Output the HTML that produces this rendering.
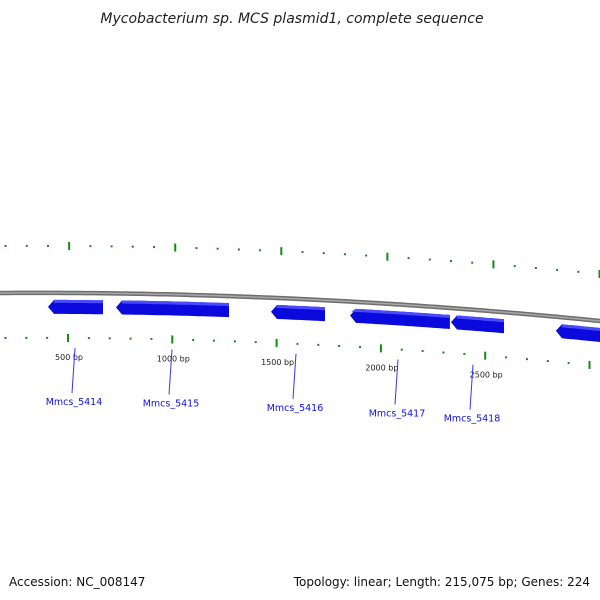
<!DOCTYPE html>
<html><head><meta charset="utf-8"><style>
html,body{margin:0;padding:0;background:#fff;width:600px;height:600px;overflow:hidden}
text{font-family:"DejaVu Sans","Liberation Sans",sans-serif}
</style></head><body>
<svg id="map" width="600" height="600" viewBox="0 0 600 600" xmlns="http://www.w3.org/2000/svg">
<text x="292" y="23" text-anchor="middle" font-size="14" font-style="italic" fill="#222">Mycobacterium sp. MCS plasmid1, complete sequence</text>
<text x="9" y="586" font-size="12" fill="#111">Accession: NC_008147</text>
<text x="590" y="586" text-anchor="end" font-size="12" fill="#111">Topology: linear; Length: 215,075 bp; Genes: 224</text>
<g id="layer"></g>
</svg>
<script>
const geneNames = ["Mmcs_5414","Mmcs_5415","Mmcs_5416","Mmcs_5417","Mmcs_5418",""];
const geneStarts = [404, 730, 1473, 1852, 2336, 2839];
const geneEnds = [668, 1272, 1732, 2331, 2590, 3100];
const majorTicks = [500, 1000, 1500, 2000, 2500, 3000];
const majorTickLabels = ["500 bp","1000 bp","1500 bp","2000 bp","2500 bp",""];
const tickStep = 100;
const tickMin = 100, tickMax = 3100;

const NS="http://www.w3.org/2000/svg";
const layer=document.getElementById('layer');
function xOf(bp){return 68+(bp-500)*0.2086;}
function yBB(x){return 293-0.0067*x+0.0000889*x*x;}
function mk(tag,attrs){const e=document.createElementNS(NS,tag);for(const k in attrs)e.setAttribute(k,attrs[k]);layer.appendChild(e);return e;}

// backbone
let d="";for(let x=-5;x<=605;x+=5){d+=(x===-5?"M":"L")+x+","+yBB(x).toFixed(2);}
const bb=mk('path',{d:d,fill:'none',stroke:'#6e6e6e','stroke-width':4.5});


const bb2=mk('path',{d:d,fill:'none',stroke:'#a8a8a8','stroke-width':1.5});



// ticks
for(let bp=tickMin;bp<=tickMax;bp+=tickStep){
  const major=majorTicks.includes(bp);
  const xi=xOf(bp);
  const yi=yBB(xi)+45;
  const xo=xi*1.017;
  const yo=yBB(xo)-47;
  if(major){
    const t1=mk('rect',{x:xi-1,y:yi-4,width:2,height:8,fill:'#138c13'});
    
    
    const t2=mk('rect',{x:xo-1,y:yo-4,width:2,height:8,fill:'#138c13'});
    
    
    const i=majorTicks.indexOf(bp);
    if(majorTickLabels[i]){
      const lb=mk('text',{x:xi+1,y:yi+22,'text-anchor':'middle','font-size':8,fill:'#222'});
      lb.textContent=majorTickLabels[i];
      
      
    }
  } else {
    const t1=mk('rect',{x:xi-1,y:yi-1,width:2,height:2,fill:'#138c13'});
    
    
    const t2=mk('rect',{x:xo-1,y:yo-1,width:2,height:2,fill:'#138c13'});
    
    
  }
}

// genes (reverse strand arrows)
for(let i=0;i<geneStarts.length;i++){
  const x1=xOf(geneStarts[i]), x2=xOf(geneEnds[i]);
  const tip=x1, base=x1+6;
  const pts=[];
  const top=[],bot=[];
  for(let x=base;x<x2;x+=4){top.push([x,yBB(x)+7]);bot.push([x,yBB(x)+21]);}
  top.push([x2,yBB(x2)+7]);bot.push([x2,yBB(x2)+21]);
  pts.push([tip,yBB(tip)+14]);
  top.forEach(p=>pts.push(p));
  bot.reverse().forEach(p=>pts.push(p));
  const g=mk('polygon',{points:pts.map(p=>p[0].toFixed(1)+","+p[1].toFixed(1)).join(" "),fill:'#0a0adc'});
  
  
  let hd="M"+base+","+(yBB(base)+8.5);
  for(let x=base;x<x2;x+=4)hd+="L"+x.toFixed(1)+","+(yBB(x)+8.5).toFixed(1);
  hd+="L"+x2.toFixed(1)+","+(yBB(x2)+8.5).toFixed(1);
  const h=mk('path',{d:hd,stroke:'#4a4aff','stroke-width':3,fill:'none'});
  
  
  if(geneNames[i]){
    const sx=[75,172,296,398,473][i];
    const ly=yBB(sx)+55;
    const ln=mk('line',{x1:sx,y1:ly,x2:sx-3,y2:ly+45,stroke:'#3333ff','stroke-width':1});
    
    
    const t=mk('text',{x:sx-1,y:ly+57,'text-anchor':'middle','font-size':9.5,fill:'#1010e6'});
    t.textContent=geneNames[i];
    
    
  }
}
</script>
</body></html>
